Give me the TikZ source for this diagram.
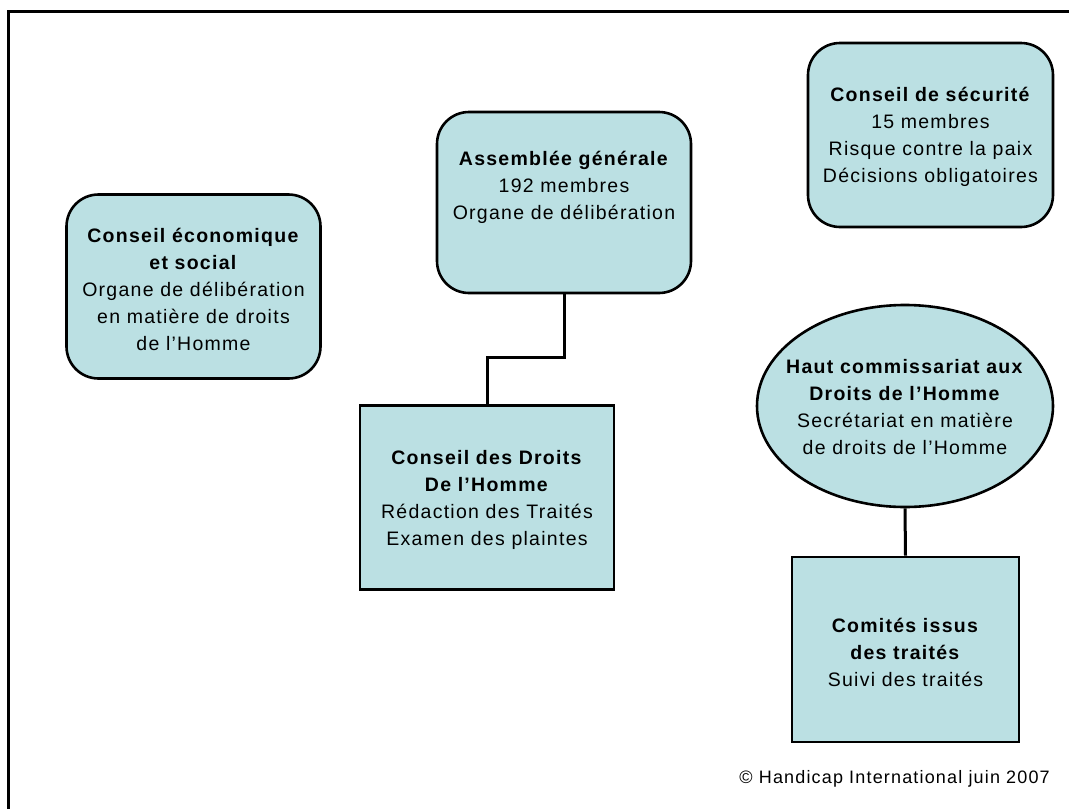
\documentclass[tikz,border=0pt]{standalone}
\usepackage{fontspec}
\setmainfont{Liberation Sans}[LetterSpace=6.5]
\usetikzlibrary{shapes.geometric,calc}
\definecolor{boxfill}{RGB}{187,224,227}
\tikzset{
  orgbox/.style={draw=black, fill=boxfill, line width=2.6pt, inner sep=0pt,
    minimum width=254pt, minimum height=184pt, align=center,
    font=\fontsize{19.5}{27}\selectfont},
  roundbox/.style={orgbox, rounded corners=32pt},
  ovalbox/.style={orgbox, ellipse, minimum width=296pt, minimum height=202pt},
  boxtext/.style={align=center, inner sep=0pt, font=\fontsize{19.5}{27}\selectfont},
  link/.style={draw=black, line width=3pt},
  frameline/.style={draw=black, line width=3pt}
}
\begin{document}
\begin{tikzpicture}[x=1pt,y=-1pt]
\useasboundingbox (0,0) rectangle (1069,809);
\fill[white] (0,0) rectangle (1069,809);
\draw[frameline] (1069,11) -- (8,11) -- (8,809);

\node[roundbox] (ces) at (193.5,286.5) {};
\node[boxtext] (cest) at (193.5,289) {\textbf{Conseil économique}\\\textbf{et social}\\Organe de délibération\\en matière de droits\\de l’Homme};

\node[roundbox, minimum height=181pt] (ag) at (564,202.5) {};
\node[boxtext, anchor=north] (agt) at (564,151) {\textbf{Assemblée générale}\\192 membres\\Organe de délibération};

\node[roundbox, minimum width=245pt] (cs) at (930.5,135) {};
\node[boxtext] (cst) at (930.5,137) {\textbf{Conseil de sécurité}\\15 membres\\Risque contre la paix\\Décisions obligatoires};

\node[orgbox] (cdh) at (487,497.5) {};
\node[boxtext] (cdht) at (487,499.5) {\textbf{Conseil des Droits}\\\textbf{De l’Homme}\\Rédaction des Traités\\Examen des plaintes};

\node[ovalbox] (hc) at (905,406) {};
\node[boxtext] (hct) at (905,407.5) {\textbf{Haut commissariat aux}\\\textbf{Droits de l’Homme}\\Secrétariat en matière\\de droits de l’Homme};

\node[orgbox, minimum width=227pt, minimum height=185pt] (ci) at (905.5,649.5) {};
\node[boxtext] (cit) at (905.5,652) {\textbf{Comités issus}\\\textbf{des traités}\\Suivi des traités};

\node[anchor=base east, inner sep=0pt, font=\fontsize{18}{21}\selectfont] (copy) at (1050,783) {© Handicap International juin 2007};

\draw[link] (ag.south) -- ++(0,63) -| (cdh.north);
\draw[link] (hc.south) -- (ci.north);
\end{tikzpicture}
\end{document}
